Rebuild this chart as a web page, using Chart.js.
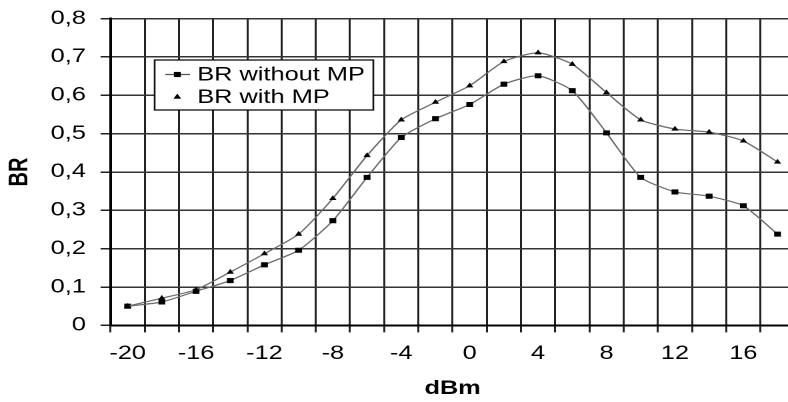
<!DOCTYPE html>
<html>
<head>
<meta charset="utf-8">
<script src="https://cdn.jsdelivr.net/npm/chart.js@4/dist/chart.umd.min.js"></script>
<style>
  html, body { margin: 0; padding: 0; background: #fff; overflow: hidden; }
  #wrap { width: 600px; height: 402px; transform: scaleX(1.3333); transform-origin: 0 0; }
</style>
</head>
<body>
<div id="wrap"><canvas id="myChart" width="600" height="402"></canvas></div>
<script>
const dbmLabels = [-20, -18, -16, -14, -12, -10, -8, -6, -4, -2, 0, 2, 4, 6, 8, 10, 12, 14, 16, 18];
const brWithoutMP = [0.05, 0.061, 0.089, 0.117, 0.158, 0.196, 0.273, 0.386, 0.49, 0.539, 0.576, 0.629, 0.651, 0.612, 0.502, 0.386, 0.348, 0.337, 0.312, 0.238];
const brWithMP = [0.05, 0.071, 0.093, 0.139, 0.187, 0.238, 0.331, 0.443, 0.536, 0.582, 0.625, 0.688, 0.711, 0.681, 0.607, 0.536, 0.512, 0.504, 0.481, 0.426];
const yTicks = [0, 0.1, 0.2, 0.3, 0.4, 0.5, 0.6, 0.7, 0.8];

const fontFam = "'Liberation Sans', Arial, sans-serif";

// legend box drawn inside the plot, like the original
const boxLegend = {
    id: 'boxLegend',
    afterDatasetsDraw(chart) {
        const ctx = chart.ctx;
        const sets = chart.data.datasets.slice().reverse();
        ctx.save();
        ctx.fillStyle = '#fff';
        ctx.strokeStyle = '#111';
        ctx.lineWidth = 1.3;
        ctx.fillRect(116, 60, 164, 50);
        ctx.strokeRect(116, 60, 164, 50);
        ctx.font = '19px ' + fontFam;
        ctx.textBaseline = 'middle';
        sets.forEach((ds, i) => {
            const y = 74.5 + i * 22.5;
            if (ds.legendLine) {
                ctx.strokeStyle = '#555';
                ctx.lineWidth = 1.2;
                ctx.beginPath();
                ctx.moveTo(124, y);
                ctx.lineTo(142.5, y);
                ctx.stroke();
            }
            ctx.fillStyle = '#000';
            Chart.helpers.drawPoint(ctx, { pointStyle: ds.pointStyle, radius: ds.pointRadius, borderWidth: 0 }, 133, y);
            ctx.fill();
            ctx.fillStyle = '#000';
            ctx.fillText(ds.label, 148, y + 1);
        });
        ctx.restore();
    }
};

var ctx = document.getElementById('myChart').getContext('2d');
var chart = new Chart(ctx, {
    type: 'line',
    data: {
        labels: dbmLabels,
        datasets: [{
            label: 'BR with MP',
            data: brWithMP,
            borderColor: '#6a6a6a',
            borderWidth: 1.2,
            backgroundColor: '#000',
            pointBackgroundColor: '#000',
            pointBorderWidth: 0,
            pointStyle: 'triangle',
            pointRadius: 3.2,
            tension: 0.2,
            legendLine: false
        }, {
            label: 'BR without MP',
            data: brWithoutMP,
            borderColor: '#6a6a6a',
            borderWidth: 1.2,
            backgroundColor: '#000',
            pointBackgroundColor: '#000',
            pointBorderWidth: 0,
            pointStyle: 'rect',
            pointRadius: 3.6,
            tension: 0.2,
            legendLine: true
        }]
    },
    options: {
        responsive: false,
        devicePixelRatio: 2,
        animation: false,
        layout: { padding: { top: 0, right: 2, bottom: 2, left: 0 } },
        plugins: {
            legend: { display: false },
            tooltip: { enabled: false }
        },
        scales: {
            x: {
                type: 'category',
                offset: true,
                grid: { offset: true, color: '#222', lineWidth: 1.5, tickLength: 7, tickColor: '#222' },
                border: { color: '#000', width: 2 },
                ticks: {
                    autoSkip: false,
                    maxRotation: 0,
                    padding: 10,
                    color: '#000',
                    font: { family: fontFam, size: 19 },
                    callback: function (val, index) {
                        return index % 2 === 0 ? String(dbmLabels[index]) : '';
                    }
                },
                title: {
                    display: true,
                    text: 'dBm',
                    color: '#000',
                    font: { family: fontFam, size: 19, weight: 'bold' },
                    padding: { top: 2, bottom: 0 }
                }
            },
            y: {
                min: 0,
                max: 0.8,
                afterBuildTicks: (axis) => { axis.ticks = yTicks.map(v => ({ value: v })); },
                grid: { color: '#333', lineWidth: 1.5, tickLength: 7.5, tickColor: '#222' },
                border: { color: '#000', width: 2 },
                ticks: {
                    padding: 11,
                    color: '#000',
                    font: { family: fontFam, size: 19, lineHeight: 0.8 },
                    callback: function (v) {
                        const r = Math.round(v * 10) / 10;
                        return r === 0 ? '0' : r.toFixed(1).replace('.', ',');
                    }
                },
                title: {
                    display: true,
                    text: 'BR',
                    color: '#000',
                    font: { family: fontFam, size: 20, weight: 'bold' },
                    padding: { top: 3, bottom: 0 }
                }
            }
        }
    },
    plugins: [boxLegend]
});
</script>
</body>
</html>
